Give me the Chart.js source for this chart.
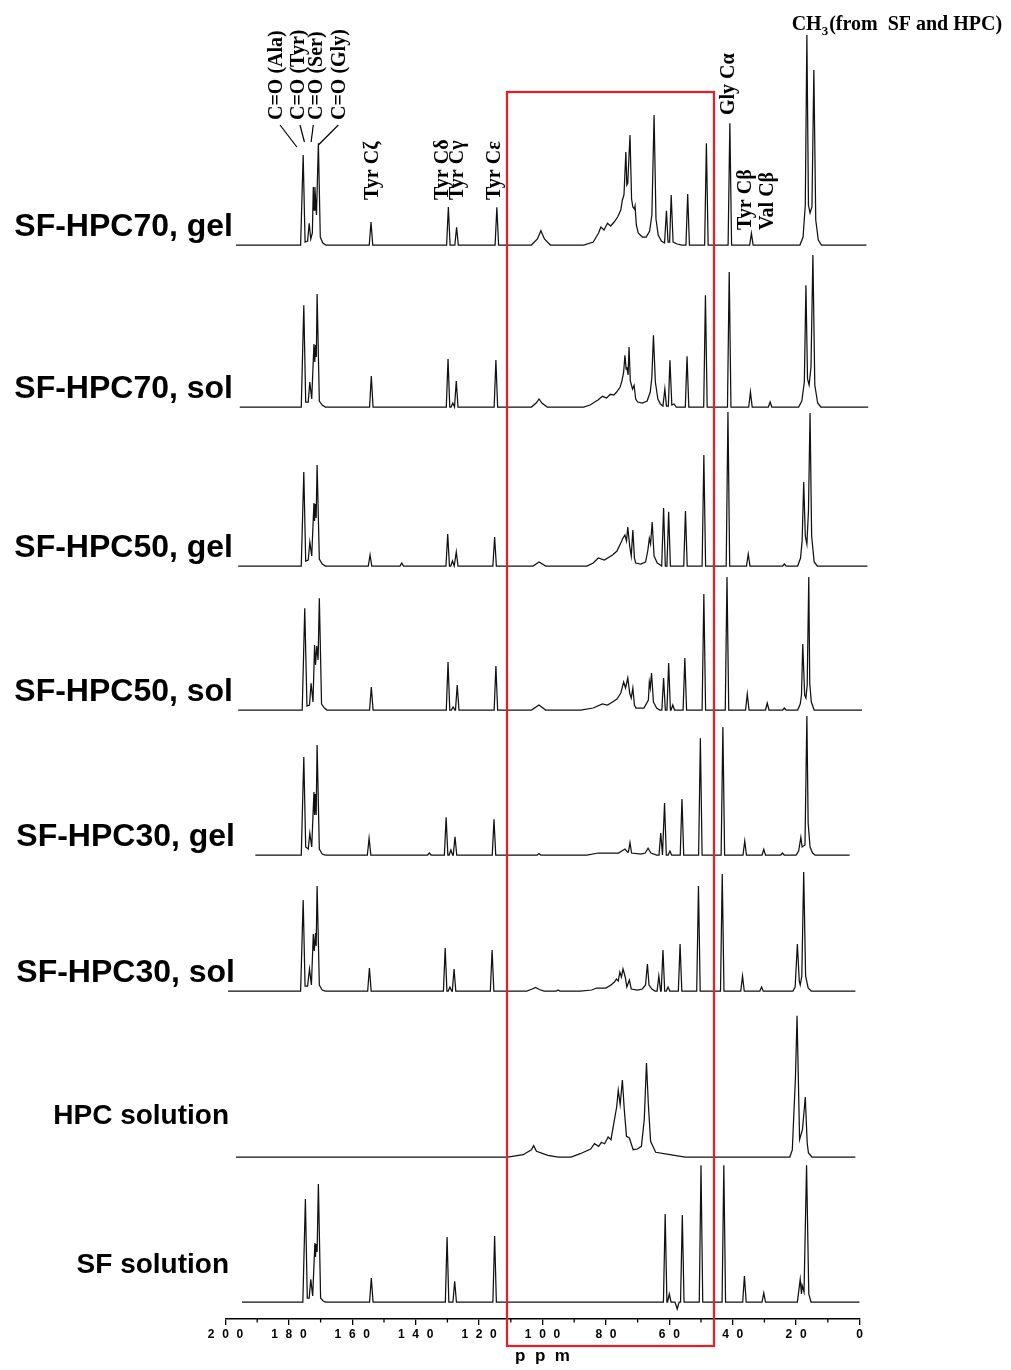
<!DOCTYPE html>
<html><head><meta charset="utf-8">
<script src="https://cdn.jsdelivr.net/npm/chart.js@4.4.1/dist/chart.umd.min.js"></script>
<style>html,body{margin:0;padding:0;background:#fff}canvas{display:block}</style>
</head><body>
<canvas id="c" width="1011" height="1370" style="width:1011px;height:1370px"></canvas>
<script>
// ---------- DATA (ppm, intensity) ----------
const seriesNames = ['SF-HPC70, gel','SF-HPC70, sol','SF-HPC50, gel','SF-HPC50, sol','SF-HPC30, gel','SF-HPC30, sol','HPC solution','SF solution'];
const tickValues = [200,180,160,140,120,100,80,60,40,20,0];

// spectral extents (start ppm, end ppm)
const gel70Range = [196.7, -2.2];
const sol70Range = [195.5, -2.75];
const gel50Range = [196, -2.5];
const sol50Range = [196, -0.8];
const gel30Range = [190.6, 3.1];
const sol30Range = [199.2, 1.3];
const hpcRange   = [196.7, 1.3];
const sfRange    = [194.8, 0];

// sharp isolated lines [ppm, height]
const gel70Peaks = [[154.1,23],[129.7,38],[127.1,17.7],[114.4,37.7],[54.2,51],[48.3,101.7],[40.9,121.7],[34.1,11.7]];
const sol70Peaks = [[154.0,31],[129.8,48],[128.3,4],[127.2,26],[114.7,47],[54.4,50.7],[48.6,111.7],[41.1,135],[34.4,15],[28.2,5]];
const gel50Peaks = [[154.4,11],[144.4,3],[129.9,32],[128.4,5],[127.2,14],[115.1,29],[61.8,58],[60.2,54.3],[54.9,55],[49.1,111],[41.5,154],[35.1,12],[23.7,2]];
const sol50Peaks = [[154.0,23],[129.8,48],[128.2,3],[126.9,25],[114.7,44],[61.8,32],[60.2,47],[58.9,5],[55.1,52],[49.1,116],[41.8,133],[35.4,16],[29.1,7],[23.7,2]];
const gel30Peaks = [[154.7,16.7],[135.7,2],[130.4,37.7],[128.9,5],[127.6,18.3],[115.3,35.7],[101.1,1.5],[62.7,22],[61.5,52],[59.8,4],[56.0,56],[50.2,116.7],[43.1,128],[36.2,14],[30.2,5.7],[24.3,2]];
const sol30Peaks = [[154.6,23],[130.7,43],[129.2,4],[127.9,22],[115.9,41],[95.1,1],[63.3,15],[62.0,41],[60.4,4],[56.6,47],[50.8,105],[43.3,117],[36.9,15],[30.9,4]];
const hpcPeaks   = [];
const sfPeaks    = [[154.0,24],[130.1,65],[127.7,20.7],[115.1,66],[61.3,88],[60.0,8],[55.9,87],[50.0,136.7],[42.8,136.7],[36.3,26],[30.2,9]];

// overlapping clusters and broad humps, traced vertex by vertex [ppm, height]
const gel70Shape = [[176.3,0],[175.5,90],[174.9,3],[174.1,4],[173.6,21.7],[173.1,6],[172.6,12],[172.3,58],[172.05,35],[171.8,58],[171.3,30],[170.7,101.7],[170.1,8],[169.3,2],[168.3,0],
 [103.5,0],[101.6,6],[100.5,14.3],[99.4,6],[97.5,0],
 [87,0],[84,3],[82.3,12],[81.6,18],[80.6,15],[79.5,21.7],[78.5,19],[77.4,23],[76.3,28],[75.3,35],[74.8,45],[74.3,50],[73.7,93],[73.4,60],[73.1,62],[72.4,110],[71.9,46],[71.5,38],[71.0,36],[70.8,39],[70.4,20],[69.8,12],[68.5,8],[67.3,8],[66.2,14],[65.5,30],[64.8,130],[64.2,26],[63.5,10],[62.5,4],[61.5,2],[61.4,2],[60.9,34.3],[60.4,3],[59.9,3],[59.4,50],[58.8,3],[57.5,1],[56,0],
 [18.8,0],[17.8,8],[17.1,40],[16.6,210],[16.1,40],[15.6,32],[15.0,38],[14.4,175],[13.8,25],[13.0,5],[12.0,0]];
const sol70Shape = [[176.1,0],[175.3,101.7],[174.7,5],[173.9,5],[173.4,25],[172.8,8],[172.1,63],[171.85,45],[171.6,62],[171.35,50],[171.1,113],[170.4,6],[169.5,2],[168.5,0],
 [103.5,0],[102,4],[101.1,8],[100.2,4],[98.5,0],
 [87,0],[85,2],[82.5,7],[81.1,10.7],[79.8,9],[78.6,12.7],[77.5,12],[76.6,15],[75.5,20],[74.9,26.7],[74.4,35],[74.0,51.7],[73.6,38],[73.4,40],[73.0,32],[72.7,60],[72.3,26],[71.6,18],[71.1,21.7],[70.6,8],[70.0,5],[68.5,4],[67,6],[66,15],[65.5,30],[65.0,71.7],[64.4,25],[63.6,8],[62.8,3],[62,1],[61.4,18],[60.9,1],[60.3,1],[59.8,46.7],[59.2,2],[58.5,3],[57.8,0],
 [19.2,0],[18.2,6],[17.4,25],[16.9,121.7],[16.4,28],[15.9,22],[15.3,40],[14.7,152],[14.1,22],[13.2,4],[12.2,0]];
const gel50Shape = [[176.1,0],[175.3,94],[174.7,5],[173.9,6],[173.4,24],[172.8,10],[172.1,63],[171.9,45],[171.7,62],[171.4,48],[171.1,101],[170.4,7],[169.5,2],[168.5,0],
 [103,0],[101.1,4],[99,0],
 [86,0],[84,3],[82.4,8],[80.5,6],[77.9,11],[76.5,15],[75.3,23],[74.6,28],[74.0,31],[73.5,25],[73.1,39],[72.5,20],[72.0,10],[71.5,36],[71.0,8],[70.6,3],[69,2],[67.5,4],[66.8,15],[66.3,27.7],[65.9,22],[65.4,44],[64.8,10],[63.8,3],[62.8,1],[62.4,0],
 [19.5,0],[18.6,8],[18.1,25],[17.6,84],[17.1,30],[16.6,22],[16.1,55],[15.6,153],[15.1,30],[14.3,4],[13.3,0]];
const sol50Shape = [[175.8,0],[175.0,101.7],[174.3,4],[173.5,5],[173.0,26.7],[172.4,8],[171.9,65],[171.6,45],[171.2,64],[170.8,50],[170.4,111.7],[169.7,6],[168.8,2],[168,0],
 [103.5,0],[101.1,5],[99,0],
 [88,0],[84,2],[81.1,6],[79.5,5],[77.9,8],[76.5,11],[75.3,17],[74.4,28],[73.8,22],[73.1,32],[72.5,17],[72.0,12],[71.5,22],[71.0,5],[70.5,2],[68,2],[66.6,10],[66.3,28],[66.0,22],[65.6,37],[65.0,8],[64,2],[63,0],
 [19.5,0],[18.7,6],[18.3,15],[17.9,66],[17.3,15],[16.9,12],[16.5,25],[16.0,133],[15.7,27],[15.2,8],[14.3,0]];
const gel30Shape = [[176.1,0],[175.3,98],[174.7,8],[173.9,6],[173.4,21.7],[172.8,8],[172.1,63],[171.9,40],[171.7,61],[171.4,40],[171.1,110],[170.4,6],[169.5,1],[168.5,0],
 [86,0],[82.4,2],[76,2],[74.0,6],[73.2,3],[72.9,3],[72.4,12.3],[71.9,2],[69,1],[67.6,2],[66.7,6.7],[65.8,2],[64,0],
 [20,0],[19.2,4],[18.5,17.7],[18.1,8],[17.2,10],[16.6,139],[16.2,32],[15.6,8],[14.8,2],[14,0]];
const sol30Shape = [[176.3,0],[175.5,91],[174.9,5],[174.1,5],[173.5,22],[172.9,6],[172.3,57],[172.0,40],[171.6,58],[171.4,45],[171.1,105],[170.4,6],[169.5,1],[168.5,0],
 [105,0],[103.2,2],[102.2,3.5],[101,1.5],[99.5,0],
 [88,0],[84.5,1],[82.9,3],[80,3],[78.4,6],[77.3,9],[76.7,12],[76.1,10],[75.6,19],[75.1,14],[74.6,22],[73.9,14],[73.4,4],[72.6,11],[72.0,2],[70,1],[68.5,2],[67.5,6],[66.9,27],[66.4,6],[65.5,2],[64.5,0],
 [21,0],[20.3,4],[19.6,47],[19.0,10],[18.7,6],[18.2,15],[17.6,119],[17.0,15],[16.2,3],[15.2,0]];
const hpcShape = [[111,0],[106.1,2.3],[103.5,7.3],[102.8,11.3],[101.9,5.7],[98.3,1.7],[95,0],
 [91,0],[88.1,3.3],[84.8,8],[83.6,13.3],[82.3,10.7],[81.4,14.7],[80.4,13.3],[79.3,20],[78.4,17.3],[77.4,35.7],[76.6,50],[76.1,66.7],[75.5,52.3],[74.8,77],[74.2,47.3],[73.5,20.7],[72.6,19],[71.4,7.3],[70.1,8],[68.8,10.7],[67.9,37.3],[67.2,94],[66.6,52.3],[65.9,15.7],[64.3,4.7],[59.8,2.3],[55,0],
 [22,0],[21.2,7],[20.2,80],[19.7,141.3],[18.9,17.3],[18.0,27.3],[17.1,60],[16.5,14],[16.1,4],[15,0]];
const sfShape = [[175.6,0],[174.8,103],[174.2,4],[173.6,4],[173.1,22.7],[172.5,6],[171.8,59],[171.6,45],[171.4,58],[171.1,50],[170.7,118],[170.0,4],[169.2,1],[168.4,0],
 [58.2,0],[57.5,-7],[56.9,0],
 [19.6,0],[18.7,22.7],[18.3,8],[18.1,16.7],[17.5,10],[16.7,136.7],[16.0,8],[15.3,0]];

// ---------- layout / style (not data) ----------
const stackOffsets = [1074, 912, 753, 609, 464, 328, 162, 17];
const lineHalfWidth = 0.55;           // ppm half-width of a sharp line's base
const boxPpm = [111.2, 45.9];
const boxTopPx = 92, boxBottomPx = 1346;

const ranges = [gel70Range, sol70Range, gel50Range, sol50Range, gel30Range, sol30Range, hpcRange, sfRange];
const peakSets = [gel70Peaks, sol70Peaks, gel50Peaks, sol50Peaks, gel30Peaks, sol30Peaks, hpcPeaks, sfPeaks];
const shapeSets = [gel70Shape, sol70Shape, gel50Shape, sol50Shape, gel30Shape, sol30Shape, hpcShape, sfShape];

function buildLine(range, peaks, shape, off) {
  const pts = [[range[0], 0], [range[1], 0]];
  shape.forEach(p => pts.push(p));
  peaks.forEach(([p, h]) => { pts.push([p + lineHalfWidth, 0], [p, h], [p - lineHalfWidth, 0]); });
  pts.sort((a, b) => b[0] - a[0]);
  return pts.map(([x, y]) => ({x, y: y + off}));
}

const datasets = seriesNames.map((name, i) => ({
  label: name,
  data: buildLine(ranges[i], peakSets[i], shapeSets[i], stackOffsets[i]),
  borderColor: '#111',
  borderWidth: 1.25,
  pointRadius: 0,
  tension: 0,
  fill: false,
  clip: false
}));

// labels / annotations (text, ppm position, pixel y)
const rowLabelDy = [-9.5, -9.5, -9.5, -9.5, -9.5, -9.5, -33, -29];
const rowLabelSize = [32, 32, 32, 32, 32, 32, 28, 28];
const rowLabelRight = [233, 233, 233, 233, 235, 235, 229, 229];
const rotLabels = [
  ['C=O (Ala)', 183.9, 120], ['C=O (Tyr)', 176.8, 120], ['C=O (Ser)', 171.2, 120], ['C=O (Gly)', 163.9, 120],
  ['Tyr C\u03B6', 153.4, 200], ['Tyr C\u03B4', 131.3, 200], ['Tyr C\u03B3', 126.6, 200], ['Tyr C\u03B5', 115.0, 200],
  ['Gly C\u03B1', 41.1, 115], ['Tyr C\u03B2', 35.9, 230], ['Val C\u03B2', 28.8, 230]
];
const leaders = [
  [182.8, 125, 177.5, 147], [176.5, 125, 175.1, 142], [172.3, 125, 173.0, 142], [164.4, 125, 170.7, 145]
];

const spaced = s => s.split('').join('  \u200A');

const annotPlugin = {
  id: 'annot',
  afterDatasetsDraw(chart) {
    const {ctx, scales: {x, y}} = chart;
    ctx.save();
    // minor ticks
    ctx.strokeStyle = '#000'; ctx.lineWidth = 1.3;
    const axisY = chart.chartArea.bottom;
    for (let v = 190; v > 0; v -= 20) {
      const px = x.getPixelForValue(v);
      ctx.beginPath(); ctx.moveTo(px, axisY); ctx.lineTo(px, axisY + 3.5); ctx.stroke();
    }
    // row labels
    ctx.fillStyle = '#000'; ctx.textAlign = 'right'; ctx.textBaseline = 'alphabetic';
    seriesNames.forEach((n, i) => {
      ctx.font = `bold ${rowLabelSize[i]}px "Liberation Sans", Arial, sans-serif`;
      ctx.fillText(n, rowLabelRight[i], y.getPixelForValue(stackOffsets[i]) + rowLabelDy[i]);
    });
    // rotated peak labels
    ctx.font = 'bold 20px "Liberation Serif", "Times New Roman", serif';
    rotLabels.forEach(([t, p, yb]) => {
      ctx.save();
      ctx.translate(x.getPixelForValue(p), yb);
      ctx.rotate(-Math.PI / 2);
      ctx.textAlign = 'left'; ctx.textBaseline = 'middle';
      ctx.fillText(t, 0, 0);
      ctx.restore();
    });
    // leader lines
    ctx.lineWidth = 1.2;
    leaders.forEach(([p1, y1, p2, y2]) => {
      ctx.beginPath(); ctx.moveTo(x.getPixelForValue(p1), y1); ctx.lineTo(x.getPixelForValue(p2), y2); ctx.stroke();
    });
    // CH3 label
    ctx.textAlign = 'left'; ctx.textBaseline = 'alphabetic';
    let cx = x.getPixelForValue(21.4);
    const cy = 30;
    ctx.font = 'bold 20px "Liberation Serif", "Times New Roman", serif';
    ctx.fillText('CH', cx, cy); cx += ctx.measureText('CH').width;
    ctx.font = 'bold 13px "Liberation Serif", "Times New Roman", serif';
    ctx.fillText('3', cx, cy + 5); cx += ctx.measureText('3').width + 1;
    ctx.font = 'bold 20px "Liberation Serif", "Times New Roman", serif';
    ctx.fillText('(from  SF and HPC)', cx, cy);
    // red box
    ctx.strokeStyle = 'rgb(236,28,36)'; ctx.lineWidth = 2.2;
    const xl = x.getPixelForValue(boxPpm[0]), xr = x.getPixelForValue(boxPpm[1]);
    ctx.strokeRect(xl, boxTopPx, xr - xl, boxBottomPx - boxTopPx);
    ctx.restore();
  }
};

new Chart(document.getElementById('c'), {
  type: 'line',
  data: { datasets },
  options: {
    responsive: false,
    devicePixelRatio: 1,
    animation: false,
    events: [],
    layout: { padding: { left: 225.5, right: 151.5, top: 0, bottom: 0 } },
    plugins: { legend: { display: false }, tooltip: { enabled: false } },
    scales: {
      x: {
        type: 'linear', position: 'bottom', reverse: true, min: 0, max: 200,
        afterFit: s => { s.height = 51; },
        border: { display: true, color: '#000', width: 1.6 },
        grid: { display: true, drawOnChartArea: false, drawTicks: true, tickLength: 6, color: '#000', lineWidth: 1.3 },
        ticks: {
          stepSize: 20, autoSkip: false, maxRotation: 0, padding: 2, color: '#000',
          font: { family: '"Liberation Sans", Arial, sans-serif', size: 12, weight: 'bold' },
          callback: v => tickValues.includes(v) ? spaced(String(v)) : ''
        },
        title: {
          display: true, text: 'p  p  m', color: '#000',
          font: { family: '"Liberation Sans", Arial, sans-serif', size: 17, weight: 'bold' },
          padding: { top: 0, bottom: 3 }
        }
      },
      y: { type: 'linear', display: false, min: 0, max: 1319 }
    }
  },
  plugins: [annotPlugin]
});
</script></body></html>
